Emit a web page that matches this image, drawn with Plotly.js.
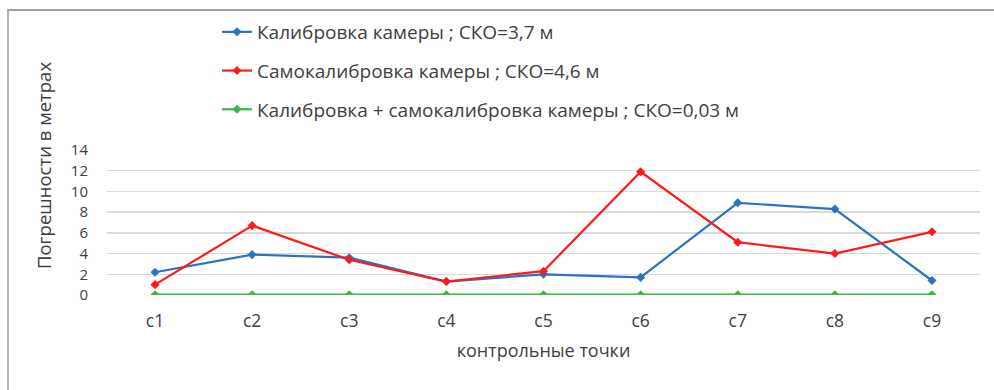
<!DOCTYPE html>
<html>
<head>
<meta charset="utf-8">
<script src="https://cdn.plot.ly/plotly-3.0.1.min.js"></script>
<style>
  html, body { margin: 0; padding: 0; background: #fff; }
  #wrap { position: relative; width: 994px; height: 390px; overflow: hidden; }
  #chart { width: 994px; height: 390px; }
  #frame { position: absolute; left: 7px; top: 9px; right: -4px; bottom: -4px;
           border-left: 2px solid #b4b4b4; border-top: 2px solid #a0a0a0; pointer-events: none; }
</style>
</head>
<body>
<div id="wrap">
  <div id="chart"></div>
  <div id="frame"></div>
</div>
<script>
const categories = ['c1', 'c2', 'c3', 'c4', 'c5', 'c6', 'c7', 'c8', 'c9'];
const calibration = [2.2, 3.9, 3.6, 1.3, 2.0, 1.7, 8.9, 8.3, 1.4];
const selfCalibration = [1.0, 6.7, 3.4, 1.3, 2.3, 11.9, 5.1, 4.0, 6.1];
const combined = [0.03, 0.03, 0.03, 0.03, 0.03, 0.03, 0.03, 0.03, 0.03];
const seriesNames = [
  'Калибровка камеры ; СКО=3,7 м',
  'Самокалибровка камеры ; СКО=4,6 м',
  'Калибровка + самокалибровка камеры ; СКО=0,03 м'
];
const yTicks = [0, 2, 4, 6, 8, 10, 12, 14];

const FONT = "'Open Sans', 'Noto Sans', sans-serif";
const colors = ['#2B72C4', '#FF1A1A', '#3DB54A'];
const values = [calibration, selfCalibration, combined];

const traces = values.map((v, i) => ({
  x: categories,
  y: v,
  name: seriesNames[i],
  type: 'scatter',
  mode: 'lines+markers',
  legendgroup: 'g' + i,
  line: { color: colors[i], width: 2.2 },
  marker: { color: colors[i], symbol: 'diamond', size: 7 }
}));

const layout = {
  width: 994,
  height: 390,
  paper_bgcolor: '#ffffff',
  plot_bgcolor: '#ffffff',
  margin: { l: 107, r: 14, t: 150, b: 95 },
  font: { family: FONT, color: '#404040', size: 16 },
  showlegend: true,
  legend: {
    x: 0.126, xref: 'paper', xanchor: 'left',
    y: 1 - 13 / 390, yref: 'container', yanchor: 'top',
    orientation: 'v',
    tracegroupgap: 11,
    font: { family: FONT, size: 19, color: '#404040' },
    bgcolor: 'rgba(0,0,0,0)'
  },
  xaxis: {
    type: 'category',
    showgrid: false,
    zeroline: false,
    showline: false,
    ticks: '',
    ticklabelstandoff: 13,
    tickfont: { family: FONT, size: 17.5, color: '#404040' },
    title: { text: 'контрольные точки', font: { family: FONT, size: 18, color: '#404040' }, standoff: 13 }
  },
  yaxis: {
    range: [0, 14],
    tickvals: yTicks,
    showgrid: true,
    gridcolor: '#d9d9d9',
    gridwidth: 1.5,
    zeroline: false,
    showline: false,
    ticks: '',
    ticklabelstandoff: 18,
    tickfont: { family: FONT, size: 15, color: '#404040' }
  },
  annotations: [{
    text: 'Погрешности в метрах',
    xref: 'paper', yref: 'paper',
    x: (43 - 107) / 873, y: (295 - 166) / 145, xanchor: 'center', yanchor: 'middle',
    textangle: -90,
    showarrow: false,
    font: { family: FONT, size: 18.5, color: '#404040' }
  }]
};

Plotly.newPlot('chart', traces, layout, { displayModeBar: false, staticPlot: true });
</script>
</body>
</html>
